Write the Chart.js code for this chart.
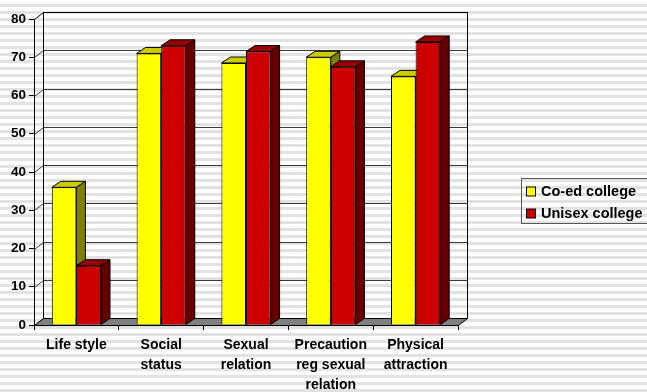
<!DOCTYPE html>
<html>
<head>
<meta charset="utf-8">
<script src="https://cdn.jsdelivr.net/npm/chart.js@4.4.1/dist/chart.umd.min.js"></script>
<style>
  html, body { margin: 0; padding: 0; }
  body {
    width: 647px; height: 392px; overflow: hidden;
    background: repeating-linear-gradient(to bottom, #ffffff 0px, #ffffff 4px, #e2e2e2 4px, #e2e2e2 7px);
  }
  #wrap { position: relative; width: 647px; height: 392px; }
</style>
</head>
<body>
<div id="wrap"><canvas id="chart"></canvas></div>
<script>
// Data
const categories = [["Life style"], ["Social", "status"], ["Sexual", "relation"], ["Precaution", "reg sexual", "relation"], ["Physical", "attraction"]];
const coedValues = [36, 71, 68.5, 70, 65];
const unisexValues = [15.5, 73, 71.5, 67.5, 74];
const seriesNames = ["Co-ed college", "Unisex college"];
const yTicks = [0, 10, 20, 30, 40, 50, 60, 70, 80];

// Face colours for the fake 3D look: front, top, side
const faces = [
  { front: "#ffff00", top: "#cccc00", side: "#808000" },
  { front: "#cc0000", top: "#990000", side: "#660000" }
];

// depth of the back wall and the bars
const wallDX = 9, wallDY = -7;
const barDX = 9, barDY = -6;

const FONT = "'Liberation Sans', Arial, sans-serif";

function poly(ctx, pts, fill) {
  ctx.beginPath();
  ctx.moveTo(pts[0][0], pts[0][1]);
  for (let i = 1; i < pts.length; i++) ctx.lineTo(pts[i][0], pts[i][1]);
  ctx.closePath();
  if (fill) { ctx.fillStyle = fill; ctx.fill(); }
  ctx.stroke();
}

const walls3d = {
  id: "walls3d",
  beforeDatasetsDraw(chart) {
    const { ctx, chartArea: a, scales: { y } } = chart;
    ctx.save();
    ctx.lineWidth = 1;
    // gridlines on the back wall plus the diagonal on the side wall
    yTicks.forEach(v => {
      const py = Math.round(y.getPixelForValue(v)) + 0.5;
      ctx.strokeStyle = v === 80 ? "#000" : "#3a3a3a";
      ctx.beginPath();
      ctx.moveTo(a.left + 0.5, py);
      ctx.lineTo(a.left + wallDX + 0.5, py + wallDY);
      ctx.lineTo(a.right + wallDX + 0.5, py + wallDY);
      ctx.stroke();
    });
    // back wall outline
    ctx.strokeStyle = "#000";
    const top = Math.round(y.getPixelForValue(80)) + wallDY + 0.5;
    const bot = Math.round(y.getPixelForValue(0)) + wallDY + 0.5;
    ctx.strokeRect(a.left + wallDX + 0.5, top, a.right - a.left, bot - top);
    // floor
    const fy = Math.round(y.getPixelForValue(0)) + 0.5;
    poly(ctx, [[a.left + 0.5, fy], [a.right + 0.5, fy], [a.right + wallDX + 0.5, fy + wallDY], [a.left + wallDX + 0.5, fy + wallDY]], "#808080");
    ctx.restore();
  },
  beforeDatasetDraw() {
    return false; // bars are drawn below in the right order
  },
  afterDatasetsDraw(chart) {
    const ctx = chart.ctx;
    chart.data.datasets.forEach((ds, di) => {
      const meta = chart.getDatasetMeta(di);
      meta.data.forEach(bar => {
        bar.draw(ctx, chart.chartArea);
        const { x, y, base, width } = bar.getProps(["x", "y", "base", "width"], true);
        const l = x - width / 2, r = x + width / 2;
        ctx.save();
        ctx.strokeStyle = "#000";
        ctx.lineWidth = 1;
        poly(ctx, [[l, y], [r, y], [r + barDX, y + barDY], [l + barDX, y + barDY]], faces[di].top);
        poly(ctx, [[r, y], [r + barDX, y + barDY], [r + barDX, base + barDY], [r, base]], faces[di].side);
        ctx.restore();
      });
    });
  },
  afterDraw(chart) {
    const ctx = chart.ctx;
    ctx.save();
    ctx.strokeStyle = "#555";
    ctx.lineWidth = 1;
    ctx.strokeRect(521.5, 178.5, 140, 45);
    ctx.font = "bold 14.5px " + FONT;
    ctx.textBaseline = "middle";
    ctx.textAlign = "left";
    seriesNames.forEach((name, i) => {
      const cy = 191.5 + i * 22;
      ctx.fillStyle = faces[i].front;
      ctx.fillRect(526.5, cy - 4.5, 9, 9);
      ctx.strokeStyle = "#000";
      ctx.strokeRect(526.5, cy - 4.5, 9, 9);
      ctx.fillStyle = "#000";
      ctx.fillText(name, 541, cy + 0.5);
    });
    ctx.restore();
  }
};

new Chart(document.getElementById("chart"), {
  type: "bar",
  data: {
    labels: categories,
    datasets: [
      { label: seriesNames[0], data: coedValues, backgroundColor: faces[0].front, borderColor: "#000", borderWidth: 1, borderSkipped: "bottom" },
      { label: seriesNames[1], data: unisexValues, backgroundColor: faces[1].front, borderColor: "#000", borderWidth: 1, borderSkipped: "bottom" }
    ]
  },
  options: {
    responsive: true,
    maintainAspectRatio: false,
    animation: false,
    datasets: { bar: { categoryPercentage: 0.58, barPercentage: 1 } },
    layout: { padding: { top: 19, right: 189, bottom: 0, left: 0 } },
    plugins: { legend: { display: false }, tooltip: { enabled: false } },
    scales: {
      x: {
        afterFit(scale) { scale.height = 67; },
        grid: { drawOnChartArea: false, color: "#000", tickLength: 5, offset: true },
        border: { color: "#000", width: 1 },
        ticks: { color: "#000", padding: 5, maxRotation: 0, autoSkip: false, font: { family: FONT, size: 14, weight: "bold", lineHeight: 20 / 14 } }
      },
      y: {
        min: 0, max: 80,
        afterFit(scale) { scale.width = 34; },
        grid: { drawOnChartArea: false, color: "#000", tickLength: 5 },
        border: { color: "#000", width: 1 },
        ticks: { stepSize: 10, color: "#000", padding: 3, font: { family: FONT, size: 13.5, weight: "bold" } }
      }
    }
  },
  plugins: [walls3d]
});
</script>
</body>
</html>
